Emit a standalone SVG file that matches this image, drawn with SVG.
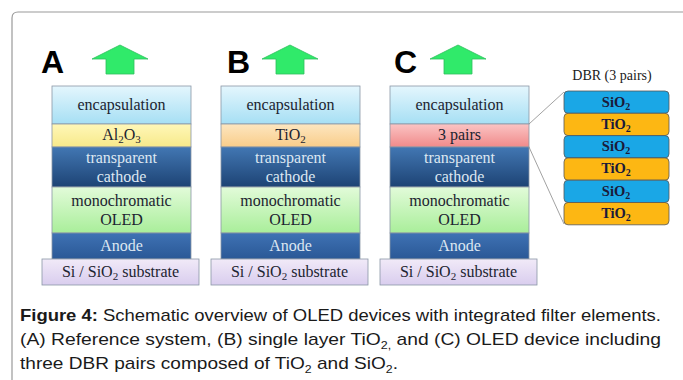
<svg xmlns="http://www.w3.org/2000/svg" width="683" height="380" viewBox="0 0 683 380">
<defs>
<linearGradient id="gEnc" x1="0" y1="0" x2="0" y2="1"><stop offset="0" stop-color="#e4f6fd"/><stop offset="1" stop-color="#a6dff4"/></linearGradient>
<linearGradient id="gAl" x1="0" y1="0" x2="0" y2="1"><stop offset="0" stop-color="#fff7b8"/><stop offset="1" stop-color="#f7e98a"/></linearGradient>
<linearGradient id="gTi" x1="0" y1="0" x2="0" y2="1"><stop offset="0" stop-color="#fde6c0"/><stop offset="1" stop-color="#f9cd8a"/></linearGradient>
<linearGradient id="gPair" x1="0" y1="0" x2="0" y2="1"><stop offset="0" stop-color="#fbc4c4"/><stop offset="1" stop-color="#f08a8a"/></linearGradient>
<linearGradient id="gCat" x1="0" y1="0" x2="0" y2="1"><stop offset="0" stop-color="#4277b3"/><stop offset="1" stop-color="#1d4374"/></linearGradient>
<linearGradient id="gOled" x1="0" y1="0" x2="0" y2="1"><stop offset="0" stop-color="#e2fbd9"/><stop offset="1" stop-color="#a9ee9a"/></linearGradient>
<linearGradient id="gAn" x1="0" y1="0" x2="0" y2="1"><stop offset="0" stop-color="#3f72b4"/><stop offset="1" stop-color="#2a5896"/></linearGradient>
<linearGradient id="gSub" x1="0" y1="0" x2="0" y2="1"><stop offset="0" stop-color="#f1eaf8"/><stop offset="1" stop-color="#d9cdee"/></linearGradient>
<style>
.lay{stroke:#8a97a6;stroke-width:0.8}
.t{font-family:"Liberation Serif","Times New Roman",serif;font-size:16px;text-anchor:middle;fill:#1c2430}
.tl{font-family:"Liberation Serif","Times New Roman",serif;font-size:16px;text-anchor:middle;fill:#dde7f2}
.big{font-family:"Liberation Sans",Arial,sans-serif;font-size:32px;font-weight:bold;fill:#000}
.arr{fill:#30ea6a;stroke:#2fbf5e;stroke-width:0.8}
.dbr{stroke:#555;stroke-width:0.8}
.dt{font-family:"Liberation Serif","Times New Roman",serif;font-size:14.5px;font-weight:bold;text-anchor:middle;fill:#1a1a3a}
.cap{font-family:"Liberation Sans",Arial,sans-serif;font-size:17px;fill:#1a1a1a}
.conn{stroke:#8a8a8a;stroke-width:0.8;fill:none}
</style>
</defs>
<rect width="683" height="380" fill="#fff"/>
<path d="M12 380 V18 Q12 12 18 12 H683" fill="none" stroke="#9a9a9a" stroke-width="1.2"/>

<g id="stackA" transform="translate(52,0)">
<text class="big" x="-11" y="73">A</text>
<polygon class="arr" points="68,45 96,59 82,59 82,74 54,74 54,59 40,59"/>
<rect class="lay" x="0" y="86" width="139" height="38" fill="url(#gEnc)"/>
<rect class="lay" x="0" y="124" width="139" height="23" fill="url(#gAl)"/>
<rect class="lay" x="0" y="147" width="139" height="40" fill="url(#gCat)"/>
<rect class="lay" x="0" y="187" width="139" height="46" fill="url(#gOled)"/>
<rect class="lay" x="0" y="233" width="139" height="26" fill="url(#gAn)"/>
<rect class="lay" x="-10" y="259" width="157" height="26" fill="url(#gSub)"/>
<text class="t" x="69.5" y="110">encapsulation</text>
<text class="t" x="69.5" y="140">Al<tspan font-size="11" dy="3">2</tspan><tspan dy="-3">O</tspan><tspan font-size="11" dy="3">3</tspan></text>
<text class="tl" x="69.5" y="163">transparent</text>
<text class="tl" x="69.5" y="182">cathode</text>
<text class="t" x="69.5" y="206">monochromatic</text>
<text class="t" x="69.5" y="225">OLED</text>
<text class="tl" x="69.5" y="251">Anode</text>
<text class="t" x="68.5" y="277">Si / SiO<tspan font-size="11" dy="3">2</tspan><tspan dy="-3"> substrate</tspan></text>
</g>

<g id="stackB" transform="translate(221,0)">
<text class="big" x="6" y="73">B</text>
<polygon class="arr" points="69,45 97,59 83,59 83,74 55,74 55,59 41,59"/>
<rect class="lay" x="0" y="86" width="139" height="38" fill="url(#gEnc)"/>
<rect class="lay" x="0" y="124" width="139" height="23" fill="url(#gTi)"/>
<rect class="lay" x="0" y="147" width="139" height="40" fill="url(#gCat)"/>
<rect class="lay" x="0" y="187" width="139" height="46" fill="url(#gOled)"/>
<rect class="lay" x="0" y="233" width="139" height="26" fill="url(#gAn)"/>
<rect class="lay" x="-10" y="259" width="157" height="26" fill="url(#gSub)"/>
<text class="t" x="69.5" y="110">encapsulation</text>
<text class="t" x="69.5" y="140">TiO<tspan font-size="11" dy="3">2</tspan></text>
<text class="tl" x="69.5" y="163">transparent</text>
<text class="tl" x="69.5" y="182">cathode</text>
<text class="t" x="69.5" y="206">monochromatic</text>
<text class="t" x="69.5" y="225">OLED</text>
<text class="tl" x="69.5" y="251">Anode</text>
<text class="t" x="68.5" y="277">Si / SiO<tspan font-size="11" dy="3">2</tspan><tspan dy="-3"> substrate</tspan></text>
</g>

<g id="stackC" transform="translate(390,0)">
<text class="big" x="4" y="73">C</text>
<polygon class="arr" points="68,45 96,59 82,59 82,74 54,74 54,59 40,59"/>
<rect class="lay" x="0" y="86" width="139" height="38" fill="url(#gEnc)"/>
<rect class="lay" x="0" y="124" width="139" height="23" fill="url(#gPair)"/>
<rect class="lay" x="0" y="147" width="139" height="40" fill="url(#gCat)"/>
<rect class="lay" x="0" y="187" width="139" height="46" fill="url(#gOled)"/>
<rect class="lay" x="0" y="233" width="139" height="26" fill="url(#gAn)"/>
<rect class="lay" x="-10" y="259" width="157" height="26" fill="url(#gSub)"/>
<text class="t" x="69.5" y="110">encapsulation</text>
<text class="t" x="69.5" y="140">3 pairs</text>
<text class="tl" x="69.5" y="163">transparent</text>
<text class="tl" x="69.5" y="182">cathode</text>
<text class="t" x="69.5" y="206">monochromatic</text>
<text class="t" x="69.5" y="225">OLED</text>
<text class="tl" x="69.5" y="251">Anode</text>
<text class="t" x="68.5" y="277">Si / SiO<tspan font-size="11" dy="3">2</tspan><tspan dy="-3"> substrate</tspan></text>
</g>

<g id="connectors">
<line class="conn" x1="529" y1="124" x2="564" y2="92"/>
<line class="conn" x1="529" y1="147" x2="564" y2="224"/>
</g>

<g id="dbr">
<text x="612" y="80" font-family="Liberation Serif, Times New Roman, serif" font-size="14" text-anchor="middle" fill="#1a1a1a">DBR (3 pairs)</text>
<rect class="dbr" x="564" y="91" width="105" height="22.3" rx="4" fill="#1aa7e6"/>
<rect class="dbr" x="564" y="113.3" width="105" height="22.3" rx="4" fill="#fdb713"/>
<rect class="dbr" x="564" y="135.6" width="105" height="22.3" rx="4" fill="#1aa7e6"/>
<rect class="dbr" x="564" y="157.9" width="105" height="22.3" rx="4" fill="#fdb713"/>
<rect class="dbr" x="564" y="180.2" width="105" height="22.3" rx="4" fill="#1aa7e6"/>
<rect class="dbr" x="564" y="202.5" width="105" height="22.3" rx="4" fill="#fdb713"/>
<text class="dt" x="616" y="106.5">SiO<tspan font-size="10" dy="3">2</tspan></text>
<text class="dt" x="616" y="128.8">TiO<tspan font-size="10" dy="3">2</tspan></text>
<text class="dt" x="616" y="151.1">SiO<tspan font-size="10" dy="3">2</tspan></text>
<text class="dt" x="616" y="173.4">TiO<tspan font-size="10" dy="3">2</tspan></text>
<text class="dt" x="616" y="195.7">SiO<tspan font-size="10" dy="3">2</tspan></text>
<text class="dt" x="616" y="218">TiO<tspan font-size="10" dy="3">2</tspan></text>
</g>

<g id="caption">
<text class="cap" x="20" y="321" textLength="641" lengthAdjust="spacingAndGlyphs"><tspan font-weight="bold">Figure 4:</tspan> Schematic overview of OLED devices with integrated filter elements.</text>
<text class="cap" x="20" y="345" textLength="641" lengthAdjust="spacingAndGlyphs">(A) Reference system, (B) single layer TiO<tspan font-size="11" dy="4">2,</tspan><tspan dy="-4"> and (C) OLED device including</tspan></text>
<text class="cap" x="20" y="369" textLength="378" lengthAdjust="spacingAndGlyphs">three DBR pairs composed of TiO<tspan font-size="11" dy="4">2</tspan><tspan dy="-4"> and SiO</tspan><tspan font-size="11" dy="4">2</tspan><tspan dy="-4">.</tspan></text>
</g>
</svg>
